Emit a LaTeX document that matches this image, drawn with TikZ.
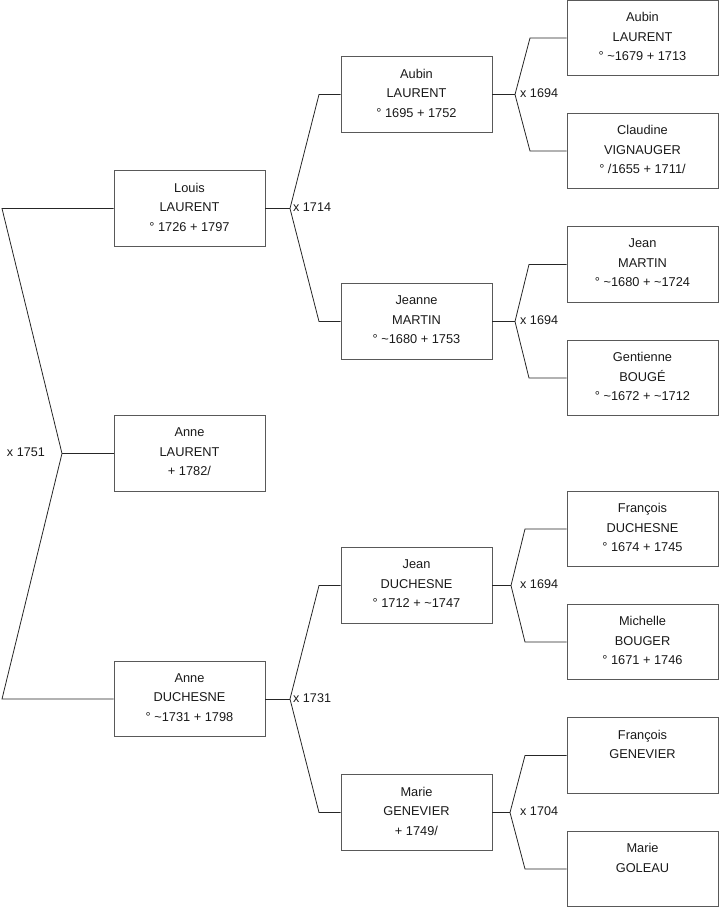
\documentclass[tikz,border=0pt]{standalone}
\usepackage{fontspec}
\setmainfont{Liberation Sans}
\begin{document}
\begin{tikzpicture}[x=1pt,y=-1pt,
  pbox/.style={draw=black!65, line width=0.8pt, minimum width=151pt, minimum height=75.5pt, inner sep=0pt},
  ptxt/.style={anchor=north, align=center, inner sep=0pt, font=\fontsize{12.8}{19.5}\selectfont, text=black!90},
  lnk/.style={draw=black!85, line width=0.8pt},
  mlab/.style={inner sep=0pt, font=\fontsize{12.6}{14}\selectfont, text=black!90}]
\useasboundingbox (0,0) rectangle (719,908);
% level 1
\node[pbox] (louis) at (189.5,208.5) {};
\node[pbox] (anneL) at (189.5,453.5) {};
\node[pbox] (anneD) at (189.5,699) {};
% level 2
\node[pbox] (aubin2) at (416.5,94.5) {};
\node[pbox] (jeanne) at (416.5,321.5) {};
\node[pbox] (jeanD) at (416.5,585.5) {};
\node[pbox] (marieG) at (416.5,812.5) {};
% level 3
\node[pbox] (aubin3) at (642.5,38) {};
\node[pbox] (claudine) at (642.5,151) {};
\node[pbox] (jeanM) at (642.5,264.5) {};
\node[pbox] (gentienne) at (642.5,378) {};
\node[pbox] (francoisD) at (642.5,529) {};
\node[pbox] (michelle) at (642.5,642) {};
\node[pbox] (francoisG) at (642.5,755.5) {};
\node[pbox] (marieGo) at (642.5,869) {};
% texts
\node[ptxt] at ([yshift=-12.5pt]louis.north) {Louis\\LAURENT\\° 1726 + 1797};
\node[ptxt] at ([yshift=-12.5pt]anneL.north) {Anne\\LAURENT\\+ 1782/};
\node[ptxt] at ([yshift=-12.5pt]anneD.north) {Anne\\DUCHESNE\\° \textasciitilde1731 + 1798};
\node[ptxt] at ([yshift=-12.5pt]aubin2.north) {Aubin\\LAURENT\\° 1695 + 1752};
\node[ptxt] at ([yshift=-12.5pt]jeanne.north) {Jeanne\\MARTIN\\° \textasciitilde1680 + 1753};
\node[ptxt] at ([yshift=-12.5pt]jeanD.north) {Jean\\DUCHESNE\\° 1712 + \textasciitilde1747};
\node[ptxt] at ([yshift=-12.5pt]marieG.north) {Marie\\GENEVIER\\+ 1749/};
\node[ptxt] at ([yshift=-12.5pt]aubin3.north) {Aubin\\LAURENT\\° \textasciitilde1679 + 1713};
\node[ptxt] at ([yshift=-12.5pt]claudine.north) {Claudine\\VIGNAUGER\\° /1655 + 1711/};
\node[ptxt] at ([yshift=-12.5pt]jeanM.north) {Jean\\MARTIN\\° \textasciitilde1680 + \textasciitilde1724};
\node[ptxt] at ([yshift=-12.5pt]gentienne.north) {Gentienne\\BOUGÉ\\° \textasciitilde1672 + \textasciitilde1712};
\node[ptxt] at ([yshift=-12.5pt]francoisD.north) {François\\DUCHESNE\\° 1674 + 1745};
\node[ptxt] at ([yshift=-12.5pt]michelle.north) {Michelle\\BOUGER\\° 1671 + 1746};
\node[ptxt] at ([yshift=-12.5pt]francoisG.north) {François\\GENEVIER};
\node[ptxt] at ([yshift=-12.5pt]marieGo.north) {Marie\\GOLEAU};
% fork points
\coordinate (f0) at (62,453.5);
\coordinate (f0a) at (2,208.5);
\coordinate (f0b) at (2,699);
\coordinate (f1) at (290,208.5);
\coordinate (f1a) at (319,94.5);
\coordinate (f1b) at (319,321.5);
\coordinate (f2) at (290,699);
\coordinate (f2a) at (319,585.5);
\coordinate (f2b) at (319,812.5);
\coordinate (f3) at (515,94.5);
\coordinate (f3a) at (530,38);
\coordinate (f3b) at (530,151);
\coordinate (f4) at (515,321.5);
\coordinate (f4a) at (529,264.5);
\coordinate (f4b) at (529,378);
\coordinate (f5) at (511,585.5);
\coordinate (f5a) at (525,529);
\coordinate (f5b) at (525,642);
\coordinate (f6) at (510,812.5);
\coordinate (f6a) at (525,755.5);
\coordinate (f6b) at (525,869);
% connectors
\draw[lnk] (louis.west) -- (f0a) -- (f0) -- (f0b) -- (anneD.west);
\draw[lnk] (f0) -- (anneL.west);
\draw[lnk] (louis.east) -- (f1);
\draw[lnk] (aubin2.west) -- (f1a) -- (f1) -- (f1b) -- (jeanne.west);
\draw[lnk] (anneD.east) -- (f2);
\draw[lnk] (jeanD.west) -- (f2a) -- (f2) -- (f2b) -- (marieG.west);
\draw[lnk] (aubin2.east) -- (f3);
\draw[lnk] (aubin3.west) -- (f3a) -- (f3) -- (f3b) -- (claudine.west);
\draw[lnk] (jeanne.east) -- (f4);
\draw[lnk] (jeanM.west) -- (f4a) -- (f4) -- (f4b) -- (gentienne.west);
\draw[lnk] (jeanD.east) -- (f5);
\draw[lnk] (francoisD.west) -- (f5a) -- (f5) -- (f5b) -- (michelle.west);
\draw[lnk] (marieG.east) -- (f6);
\draw[lnk] (francoisG.west) -- (f6a) -- (f6) -- (f6b) -- (marieGo.west);
% marriage labels
\node[mlab, anchor=east] (m0) at (45,452.5) {x 1751};
\node[mlab, anchor=west] (m1) at (293,207.5) {x 1714};
\node[mlab, anchor=west] (m2) at (293,698) {x 1731};
\node[mlab, anchor=west] (m3) at (520,93.5) {x 1694};
\node[mlab, anchor=west] (m4) at (520,320.5) {x 1694};
\node[mlab, anchor=west] (m5) at (520,584.5) {x 1694};
\node[mlab, anchor=west] (m6) at (520,811.5) {x 1704};
\end{tikzpicture}
\end{document}
